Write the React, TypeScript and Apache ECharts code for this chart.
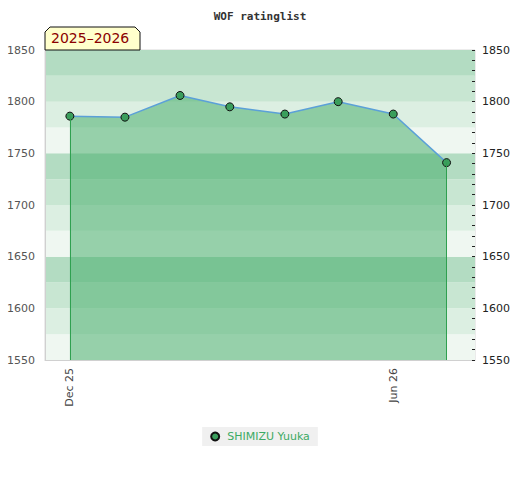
import React, { useEffect, useRef } from "react";
import * as echarts from "echarts";

const seasonLabel = "2025–2026";
const titleText = "WOF ratinglist";
const playerName = "SHIMIZU Yuuka";
const dates = ["2025-12-01", "2026-01-01", "2026-02-01", "2026-03-01", "2026-04-01", "2026-05-01", "2026-06-01", "2026-07-01"];
const ratings = [1786, 1785, 1806, 1795, 1788, 1800, 1788, 1741];
const xLabelDates = ["2025-12-01", "2026-06-01"];
const xLabelTexts = ["Dec 25", "Jun 26"];
const yMin = 1550;
const yMax = 1850;
const bandColors = ["#eff7f1", "#dcefe2", "#c8e6d2", "#b3dcc2"];

const ts = (d: string) => new Date(d + "T00:00:00Z").getTime();

export default function App() {
  const ref = useRef<HTMLDivElement>(null);
  useEffect(() => {
    if (!ref.current) return;
    const chart = echarts.init(ref.current, null, { renderer: "svg" });
    const data = dates.map((d, i) => [ts(d), ratings[i]]);
    const first = data[0];
    const last = data[data.length - 1];
    const labelTs = xLabelDates.map(ts);
    const font = "DejaVu Sans";
    chart.setOption({
      animation: false,
      title: {
        text: titleText,
        left: "center",
        top: 6,
        textStyle: { fontFamily: "DejaVu Sans Mono", fontWeight: "bold", fontSize: 11, color: "#333" },
      },
      grid: { left: 45, right: 45, top: 50, bottom: 120, show: true, borderColor: "#d8d8d8", borderWidth: 1, backgroundColor: "transparent" },
      legend: {
        top: 427,
        left: "center",
        backgroundColor: "#f0f0f0",
        padding: [4, 8, 4, 8],
        icon: "circle",
        itemWidth: 8,
        itemHeight: 8,
        itemGap: 6,
        textStyle: { color: "#3caa64", fontSize: 11, fontFamily: font, padding: [0, 0, 0, 3] },
        data: [playerName],
      },
      xAxis: {
        type: "value",
        min: ts("2025-11-17"),
        max: ts("2026-07-17"),
        axisLine: { show: true, lineStyle: { color: "#d0d0d0" } },
        axisTick: { show: false },
        splitLine: { show: false },
        axisLabel: {
          rotate: 90,
          customValues: labelTs,
          color: "#444",
          fontSize: 11,
          fontFamily: font,
          margin: 8,
          formatter: (v: number) => {
            const idx = labelTs.indexOf(v);
            return idx >= 0 ? xLabelTexts[idx] : "";
          },
        },
      },
      yAxis: [
        {
          type: "value",
          position: "left",
          min: yMin,
          max: yMax,
          interval: 50,
          axisLine: { show: true, lineStyle: { color: "#d0d0d0" } },
          axisTick: { show: false },
          splitLine: { show: false },
          axisLabel: { color: "#555", fontSize: 11, fontFamily: font, margin: 10, formatter: (v: number) => String(v) },
        },
        {
          type: "value",
          position: "right",
          min: yMin,
          max: yMax,
          interval: 50,
          axisLine: { show: false },
          axisTick: { show: true, inside: true, length: 3, lineStyle: { color: "#222" } },
          minorTick: { show: true, splitNumber: 5, length: 3, lineStyle: { color: "#222" } },
          splitLine: { show: false },
          axisLabel: { color: "#222", fontSize: 11, fontFamily: font, margin: 7, formatter: (v: number) => String(v) },
        },
        {
          type: "value",
          position: "left",
          min: yMin,
          max: yMax,
          interval: 25,
          axisLine: { show: false },
          axisTick: { show: false },
          axisLabel: { show: false },
          splitLine: { show: false },
          splitArea: { show: true, areaStyle: { color: bandColors } },
        },
      ],
      series: [
        {
          name: playerName,
          type: "line",
          yAxisIndex: 0,
          data,
          symbol: "circle",
          symbolSize: 8,
          lineStyle: { color: "#5ba0d8", width: 1.5 },
          itemStyle: { color: "#3a9e5c", borderColor: "#111", borderWidth: 1 },
          areaStyle: { color: "#3daa63", opacity: 0.5, origin: "start" },
          z: 3,
          markLine: {
            silent: true,
            symbol: "none",
            label: { show: false },
            lineStyle: { color: "#2fa050", width: 1, type: "solid", opacity: 1 },
            emphasis: { disabled: true },
            data: [
              [{ coord: [first[0], first[1]] }, { coord: [first[0], yMin] }],
              [{ coord: [last[0], last[1]] }, { coord: [last[0], yMin] }],
            ],
          },
        },
      ],
      graphic: [
        {
          type: "polygon",
          z: 100,
          shape: { points: [[45, 50], [45, 32], [50, 27], [135, 27], [140, 32], [140, 50]] },
          style: { fill: "#ffffcc", stroke: "#111", lineWidth: 1 },
        },
        {
          type: "text",
          z: 101,
          left: 51,
          top: 31,
          style: { text: seasonLabel, fill: "#8b0000", fontSize: 14, fontFamily: font },
        },
      ],
    });
    return () => chart.dispose();
  }, []);
  return <div ref={ref} style={{ position: "absolute", left: 0, top: 0, width: 520, height: 480 }} />;
}
